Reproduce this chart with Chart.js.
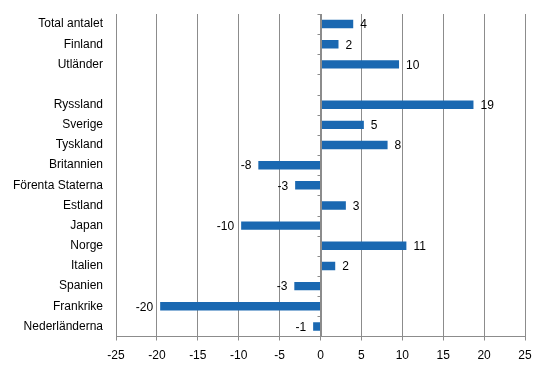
<!DOCTYPE html>
<html>
<head>
<meta charset="utf-8">
<script src="https://cdn.jsdelivr.net/npm/chart.js@4"></script>
<style>
  html, body { margin: 0; padding: 0; background: #fff; }
  #wrap { width: 546px; height: 376px; }
</style>
</head>
<body>
<div id="wrap"><canvas id="chart"></canvas></div>
<script>
const categories = ['Total antalet', 'Finland', 'Utländer', '', 'Ryssland', 'Sverige', 'Tyskland',
    'Britannien', 'Förenta Staterna', 'Estland', 'Japan', 'Norge', 'Italien', 'Spanien',
    'Frankrike', 'Nederländerna'];
const values = [4.0, 2.2, 9.6, null, 18.7, 5.3, 8.2, -7.6, -3.1, 3.1, -9.7, 10.5, 1.8, -3.2, -19.6, -0.9];
const xTicks = [-25, -20, -15, -10, -5, 0, 5, 10, 15, 20, 25];

const gridColor = '#8c8c8c';
const barColor = '#1a68b1';
const font = { family: '"Liberation Sans", Arial, sans-serif', size: 12 };

// value labels + vertical axis at zero with tick marks
const extras = {
    id: 'extras',
    afterDatasetsDraw(chart) {
        const ctx = chart.ctx;
        const xs = chart.scales.x;
        const ys = chart.scales.y;
        const meta = chart.getDatasetMeta(0);
        ctx.save();
        ctx.font = font.size + 'px ' + font.family;
        ctx.fillStyle = '#000';
        ctx.textBaseline = 'middle';
        meta.data.forEach((bar, i) => {
            const v = values[i];
            if (v === null) return;
            const txt = String(Math.round(v));
            if (v >= 0) {
                ctx.textAlign = 'left';
                ctx.fillText(txt, bar.x + 7, bar.y + 1);
            } else {
                ctx.textAlign = 'right';
                ctx.fillText(txt, bar.x - 7, bar.y + 1);
            }
        });
        const x0 = Math.round(xs.getPixelForValue(0)) + 0.5;
        ctx.strokeStyle = gridColor;
        ctx.lineWidth = 1;
        ctx.beginPath();
        ctx.moveTo(x0, ys.top);
        ctx.lineTo(x0, ys.bottom);
        const step = (ys.bottom - ys.top) / categories.length;
        for (let k = 0; k < categories.length; k++) {
            const y = Math.round(ys.top + k * step) + 0.5;
            ctx.moveTo(x0 - 4, y);
            ctx.lineTo(x0, y);
        }
        ctx.stroke();
        ctx.restore();
    }
};

new Chart(document.getElementById('chart'), {
    type: 'bar',
    data: {
        labels: categories,
        datasets: [{
            data: values,
            backgroundColor: barColor,
            borderWidth: 0,
            categoryPercentage: 1,
            barPercentage: 0.42
        }]
    },
    options: {
        indexAxis: 'y',
        responsive: true,
        maintainAspectRatio: false,
        animation: false,
        layout: { padding: { top: 14, right: 21, left: 0, bottom: 0 } },
        plugins: { legend: { display: false }, tooltip: { enabled: false } },
        scales: {
            x: {
                min: -25,
                max: 25,
                afterBuildTicks: (s) => { s.ticks = xTicks.map(v => ({ value: v })); },
                afterFit: (s) => { s.height = 39.5; s.paddingLeft = 0; s.paddingRight = 0; },
                grid: { color: gridColor, tickLength: 4, drawTicks: true },
                border: { color: gridColor },
                ticks: { color: '#000', font: font, padding: 8, maxRotation: 0 }
            },
            y: {
                afterFit: (s) => { s.width = 116; s.paddingTop = 0; s.paddingBottom = 0; },
                grid: { display: false },
                border: { display: false },
                ticks: { color: '#000', font: font, padding: 5, autoSkip: false }
            }
        }
    },
    plugins: [extras]
});
</script>
</body>
</html>
